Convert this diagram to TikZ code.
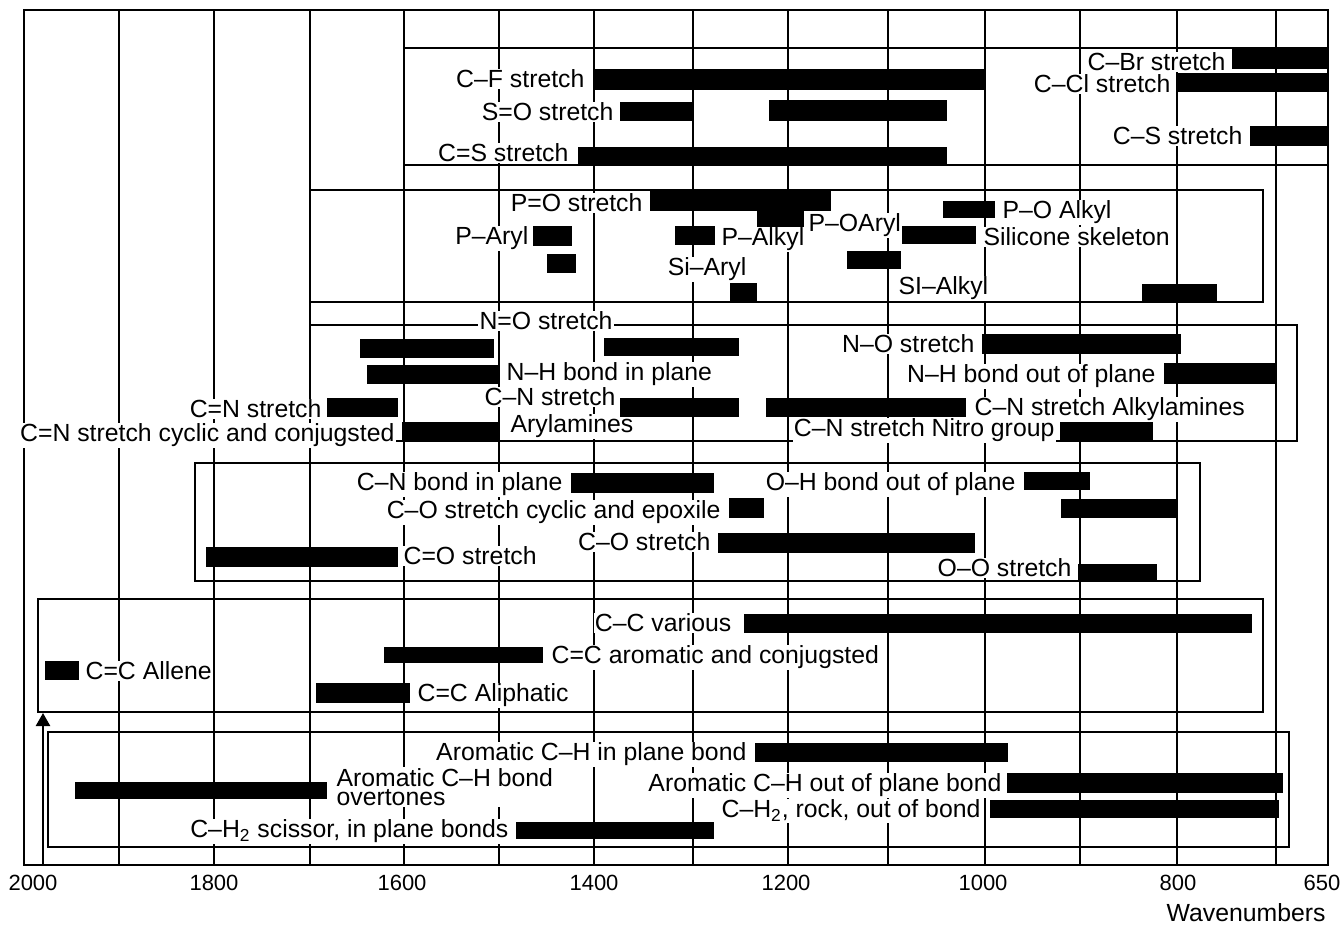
\documentclass[tikz,border=0pt]{standalone}
\usepackage{fontspec}
\setmainfont{Liberation Sans}
\usetikzlibrary{arrows.meta}
\begin{document}
\begin{tikzpicture}[x=0.5pt,y=-0.5pt,
  gridline/.style={line width=1pt},
  boxline/.style={line width=1.2pt},
  barfill/.style={fill=black},
  lab/.style={font=\fontsize{12.4}{14}\selectfont, inner sep=0.6pt, fill=white, yshift=-4.4pt},
  lr/.style={lab, anchor=base east},
  ll/.style={lab, anchor=base west},
  lc/.style={lab, anchor=base},
  ax/.style={font=\fontsize{11}{13}\selectfont, inner sep=0pt, anchor=base, yshift=-3.95pt}]
\useasboundingbox (0,0) rectangle (1342,925);
\fill[white] (0,0) rectangle (1342,925);
% grid and frame
\foreach \x in {119,214,310,404,499,594,693,788,888,985,1080,1177,1276}
  \draw[gridline] (\x,10) -- (\x,865);
\draw[gridline] (24,10) rectangle (1328,865);
% group boxes
\draw[boxline] (404,48) rectangle (1328,165);
\draw[boxline] (310,190) rectangle (1263,302);
\draw[boxline] (310,325) rectangle (1297,441);
\draw[boxline] (195,463) rectangle (1200,581);
\draw[boxline] (38,599) rectangle (1263,712);
\draw[boxline] (48,732) rectangle (1289,847);
% arrow
\coordinate (arrbot) at (43,865);
\coordinate (arrtop) at (43,713);
\draw[boxline,-{Triangle[length=6.5pt,width=7pt]}] (arrbot) -- (arrtop);
% labels box 1
\node[lr] (cf) at (586,79) {C–F stretch};
\node[lr] (cbr) at (1227,62) {C–Br stretch};
\node[lr] (ccl) at (1172,84) {C–Cl stretch};
\node[lr] (so) at (615,112) {S=O stretch};
\node[lr] (cs2) at (570,153) {C=S stretch};
\node[lr] (cs) at (1244,136) {C–S stretch};
% labels box 2
\node[lr] (po) at (644,203) {P=O stretch};
\node[ll] (poalk) at (1001,210) {P–O Alkyl};
\node[ll] (poar) at (807,223) {P–OAryl};
\node[lr] (par) at (530,236) {P–Aryl};
\node[ll] (palk) at (720,237) {P–Alkyl};
\node[ll] (sil) at (982,237) {Silicone skeleton};
\node[lr] (siar) at (748,267) {Si–Aryl};
\node[ll] (sialk) at (897,286) {SI–Alkyl};
% labels box 3
\node[lc] (no2) at (546,321) {N=O stretch};
\node[ll] (nhip) at (505,372) {N–H bond in plane};
\node[ll] (cnst) at (483,397) {C–N stretch};
\node[ll] (aryl) at (509,424) {Arylamines};
\node[lr] (cn2) at (323,409) {C=N stretch};
\node[lr] (cncyc) at (396,433) {C=N stretch cyclic and conjugsted};
\node[lr] (no) at (976,344) {N–O stretch};
\node[lr] (nhoop) at (1157,374) {N–H bond out of plane};
\node[ll] (cnalk) at (973,407) {C–N stretch Alkylamines};
\node[lr] (cnnit) at (1056,428) {C–N stretch Nitro group};
% labels box 4
\node[lr] (cnip) at (564,482) {C–N bond in plane};
\node[lr] (ohoop) at (1017,482) {O–H bond out of plane};
\node[lr] (coep) at (722,510) {C–O stretch cyclic and epoxile};
\node[lr] (co) at (712,542) {C–O stretch};
\node[ll] (co2) at (402,556) {C=O stretch};
\node[lr] (oo) at (1073,568) {O–O stretch};
% labels box 5
\node[lr] (ccv) at (733,623) {C–C various};
\node[ll] (ccar) at (550,655) {C=C aromatic and conjugsted};
\node[ll] (ccal) at (84,671) {C=C Allene};
\node[ll] (ccali) at (416,693) {C=C Aliphatic};
% labels box 6
\node[lr] (chip) at (748,752) {Aromatic C–H in plane bond};
\node[font=\fontsize{12.4}{9.5}\selectfont, inner sep=0.6pt, fill=white, align=left, anchor=north west] (chov) at (335,767) {Aromatic C–H bond\\overtones};
\node[lr] (choop) at (1003,783) {Aromatic C–H out of plane bond};
\node[lr] (chrock) at (982,809) {C–H\textsubscript{2}, rock, out of bond};
\node[lr] (chsc) at (510,829) {C–H\textsubscript{2} scissor, in plane bonds};
% axis labels
\node[ax] (t2000) at (33,883) {2000};
\node[ax] (t1800) at (214,883) {1800};
\node[ax] (t1600) at (402,883) {1600};
\node[ax] (t1400) at (594,883) {1400};
\node[ax] (t1200) at (786,883) {1200};
\node[ax] (t1000) at (983,883) {1000};
\node[ax] (t800) at (1178,883) {800};
\node[ax] (t650) at (1322,883) {650};
\node[font=\fontsize{12.4}{14}\selectfont, inner sep=0pt, anchor=base east, yshift=-4.4pt] (wn) at (1326,913) {Wavenumbers};
% bars box 1
\fill[barfill] (595,69) rectangle (985,90);
\fill[barfill] (1232,48) rectangle (1328,69);
\fill[barfill] (1176,73) rectangle (1328,92);
\fill[barfill] (620,102) rectangle (692,121);
\fill[barfill] (769,100) rectangle (947,121);
\fill[barfill] (578,147) rectangle (947,166);
\fill[barfill] (1250,126) rectangle (1328,146);
% bars box 2
\fill[barfill] (650,190) rectangle (831,211);
\fill[barfill] (757,210) rectangle (804,227);
\fill[barfill] (943,201) rectangle (995,218);
\fill[barfill] (533,226) rectangle (572,246);
\fill[barfill] (547,254) rectangle (576,273);
\fill[barfill] (675,226) rectangle (715,245);
\fill[barfill] (730,283) rectangle (757,302);
\fill[barfill] (902,226) rectangle (976,244);
\fill[barfill] (847,251) rectangle (901,269);
\fill[barfill] (1142,284) rectangle (1217,302);
% bars box 3
\fill[barfill] (360,339) rectangle (494,358);
\fill[barfill] (604,338) rectangle (739,356);
\fill[barfill] (367,365) rectangle (500,384);
\fill[barfill] (620,398) rectangle (739,417);
\fill[barfill] (327,398) rectangle (398,417);
\fill[barfill] (402,422) rectangle (498,441);
\fill[barfill] (982,334) rectangle (1181,354);
\fill[barfill] (1164,363) rectangle (1275,384);
\fill[barfill] (766,398) rectangle (966,417);
\fill[barfill] (1060,422) rectangle (1153,440);
% bars box 4
\fill[barfill] (571,473) rectangle (714,493);
\fill[barfill] (1024,472) rectangle (1090,490);
\fill[barfill] (1061,499) rectangle (1176,518);
\fill[barfill] (729,498) rectangle (764,518);
\fill[barfill] (718,533) rectangle (975,553);
\fill[barfill] (206,547) rectangle (398,567);
\fill[barfill] (1078,564) rectangle (1157,581);
% bars box 5
\fill[barfill] (744,614) rectangle (1252,633);
\fill[barfill] (384,647) rectangle (543,663);
\fill[barfill] (45,661) rectangle (79,680);
\fill[barfill] (316,683) rectangle (410,703);
% bars box 6
\fill[barfill] (755,743) rectangle (1008,762);
\fill[barfill] (75,782) rectangle (327,799);
\fill[barfill] (1007,773) rectangle (1283,793);
\fill[barfill] (990,800) rectangle (1279,818);
\fill[barfill] (516,822) rectangle (714,839);
\end{tikzpicture}
\end{document}
